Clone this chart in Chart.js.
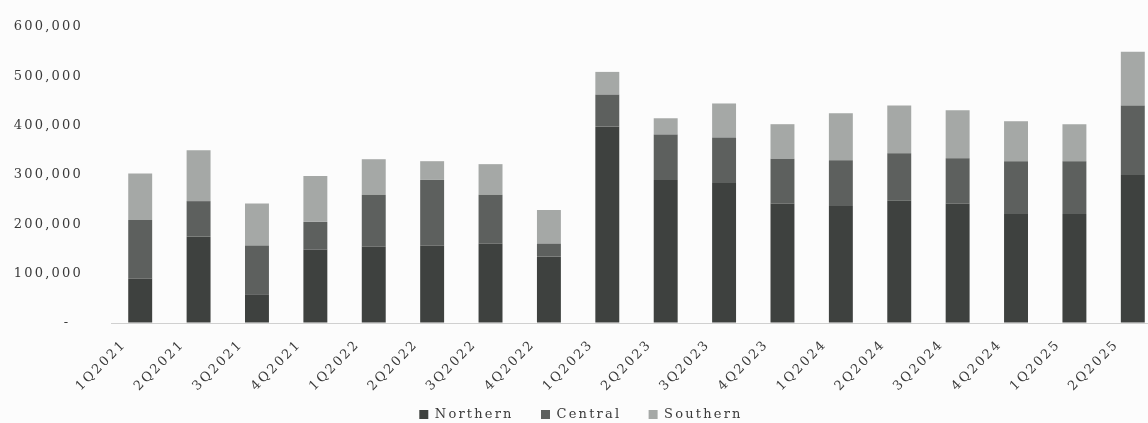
<!DOCTYPE html>
<html>
<head>
<meta charset="utf-8">
<script src="https://cdn.jsdelivr.net/npm/chart.js@4"></script>
<style>
  html, body { margin: 0; padding: 0; background: #fcfcfc; overflow: hidden; }
  #wrap { width: 1162px; height: 423px; position: relative; }
</style>
</head>
<body>
<div id="wrap"><canvas id="regionChart"></canvas></div>
<script>
// Quarter labels
const quarters = [
  "1Q2021", "2Q2021", "3Q2021", "4Q2021",
  "1Q2022", "2Q2022", "3Q2022", "4Q2022",
  "1Q2023", "2Q2023", "3Q2023", "4Q2023",
  "1Q2024", "2Q2024", "3Q2024", "4Q2024",
  "1Q2025", "2Q2025",
];

// Stacked values per region
const northern = [90000, 175000, 58000, 149000, 155000, 157000, 161000, 135000, 398000, 290000, 284000, 242000, 237000, 248000, 242000, 221000, 221000, 300000];
const central = [119000, 72000, 99000, 56000, 105000, 133000, 99000, 26000, 65000, 92000, 92000, 91000, 93000, 96000, 92000, 107000, 107000, 141000];
const southern = [94000, 103000, 85000, 93000, 72000, 38000, 62000, 68000, 46000, 33000, 69000, 70000, 95000, 97000, 97000, 81000, 75000, 109000];

const yTicks = [0, 100000, 200000, 300000, 400000, 500000, 600000];

// Colors and fonts
const colors = {
  northern: "#3e413f",
  central: "#5d605e",
  southern: "#a5a8a6",
};
const textColor = "#3a3a3a";
const serif = "'DejaVu Serif', 'Liberation Serif', serif";

// the source text is drawn quite wide, so spread the letters a little
const wideText = {
  id: "wideText",
  beforeUpdate: (chart) => { chart.ctx.letterSpacing = "2.2px"; },
  beforeDraw: (chart) => { chart.ctx.letterSpacing = "2.2px"; },
};

// push the legend a bit closer to the bottom edge
const legendDown = {
  id: "legendDown",
  afterLayout: (chart) => {
    chart.legend.top += 8;
    chart.legend.bottom += 8;
  },
};

function dataset(label, data, color) {
  return {
    label: label,
    data: data,
    backgroundColor: color,
    borderWidth: 0,
    barPercentage: 0.41,
    categoryPercentage: 1,
  };
}

const ctx = document.getElementById("regionChart").getContext("2d");
new Chart(ctx, {
  type: "bar",
  data: {
    labels: quarters,
    datasets: [
      dataset("Northern", northern, colors.northern),
      dataset("Central", central, colors.central),
      dataset("Southern", southern, colors.southern),
    ],
  },
  plugins: [wideText, legendDown],
  options: {
    responsive: true,
    maintainAspectRatio: false,
    animation: false,
    layout: { padding: { top: 27, left: 0, right: 0, bottom: 0 } },
    scales: {
      x: {
        stacked: true,
        grid: { display: false, drawTicks: false },
        border: { display: true, color: "#d0d0d0", width: 1 },
        afterFit: (scale) => {
          scale.height = 75;
        },
        ticks: {
          color: textColor,
          font: { family: serif, size: 13 },
          minRotation: 45,
          maxRotation: 45,
          padding: 14,
          labelOffset: -16,
        },
      },
      y: {
        stacked: true,
        min: 0,
        max: 600000,
        afterBuildTicks: (scale) => {
          scale.ticks = yTicks.map((v) => ({ value: v }));
        },
        afterFit: (scale) => {
          scale.width = 111;
        },
        // invisible tick marks keep the labels away from the bars
        grid: { display: true, drawOnChartArea: false, drawTicks: true, tickLength: 26, color: "rgba(0,0,0,0)" },
        border: { display: false },
        ticks: {
          color: textColor,
          font: { family: serif, size: 13 },
          padding: 2,
          callback: (v) => (v === 0 ? "-  " : v.toLocaleString("en-US")),
        },
      },
    },
    plugins: {
      tooltip: { enabled: false },
      legend: {
        position: "bottom",
        labels: {
          color: textColor,
          font: { family: serif, size: 13 },
          boxWidth: 9,
          boxHeight: 9,
          padding: 2,
          generateLabels: (chart) =>
            Chart.defaults.plugins.legend.labels
              .generateLabels(chart)
              .map((l, i) => ({ ...l, text: i < 2 ? l.text + "    " : l.text })),
        },
      },
    },
  },
});
</script>
</body>
</html>
